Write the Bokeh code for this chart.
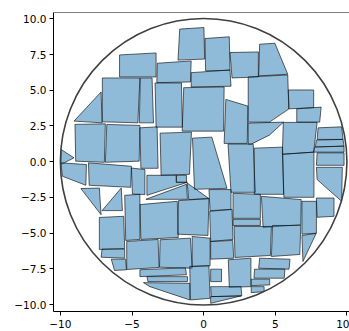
from bokeh.plotting import figure
from bokeh.embed import file_html
from bokeh.resources import INLINE
from bokeh.models import Range1d, FixedTicker, Span

# ---- data -------------------------------------------------------------
circle_x = [0.0]
circle_y = [0.0]
circle_r = [10.0]

poly_xs = [
    [-1.67, 0.02, 0.07, -1.79],
    [0.09, 1.79, 1.84, 0.14],
    [1.84, 3.82, 3.82, 1.98],
    [3.91, 4.97, 5.87, 3.84],
    [-3.23, -0.87, -0.92, -3.27],
    [-0.87, 1.84, 1.91, -0.87],
    [-5.87, -3.32, -3.32, -5.87],
    [-7.07, -4.45, -4.59, -7.07],
    [-4.42, -3.6, -3.5, -4.49],
    [-3.39, -1.55, -1.48, -3.32],
    [-1.39, 1.43, 1.39, -1.5],
    [1.55, 3.09, 3.04, 1.43],
    [3.11, 5.87, 5.94, 4.59, 3.11],
    [5.91, 7.68, 7.68, 5.96],
    [6.5, 8.2, 8.1, 6.5],
    [3.11, 5.58, 4.59, 3.32, 3.11],
    [5.56, 7.92, 7.68, 5.49],
    [7.99, 9.63, 9.73, 7.92],
    [7.87, 9.73, 9.8, 7.8],
    [7.75, 9.8, 9.8, 7.68],
    [7.92, 9.8, 9.8, 7.87],
    [7.87, 9.68, 9.63, 7.92],
    [7.87, 9.1, 9.1, 7.92],
    [6.86, 7.87, 7.87, 6.86],
    [4.03, 6.81, 6.78, 4.15],
    [3.53, 5.51, 5.58, 3.53],
    [5.51, 7.7, 7.7, 5.6],
    [2.05, 3.96, 3.96, 2.05],
    [2.05, 3.96, 3.96, 2.05],
    [-0.78, 0.57, 1.63, -0.64],
    [1.7, 3.46, 3.6, 1.91],
    [-3.04, -0.85, -0.99, -2.97],
    [-1.91, -1.2, -1.2, -1.91],
    [-3.96, -1.91, -1.91, -1.13, -3.96],
    [-4.03, -1.2, -1.13],
    [-1.15, 0.37, -1.04],
    [-9.05, -7.16, -7.09],
    [-8.98, -6.86, -6.93, -8.93],
    [-6.76, -4.45, -4.5, -6.86],
    [-4.45, -3.25, -3.18, -4.38],
    [-9.95, -9.05, -9.97],
    [-9.97, -8.18, -8.22, -9.85],
    [-8.04, -5.04, -5.09, -7.99],
    [-8.57, -7.28, -7.16],
    [-7.09, -5.75, -5.67],
    [-5.04, -4.1, -4.1, -4.97],
    [0.37, 1.91, 1.91, 0.45],
    [-1.75, 0.37, 0.3, -1.82],
    [-4.45, -1.84, -1.77, -4.38],
    [-5.51, -4.45, -4.45, -5.44],
    [-7.28, -5.58, -5.51, -7.28],
    [-7.09, -5.51, -5.51, -7.16],
    [-6.45, -5.44, -5.39, -6.22],
    [-5.37, -3.18, -3.11, -5.37],
    [-4.45, -1.27, -1.2, -4.45],
    [-3.96, -1.13, -1.13, -3.89],
    [-4.2, -0.97, -0.97, -3.75],
    [-3.04, -0.92, -0.8, -3.08],
    [-0.8, 0.45, 0.45, -0.8],
    [-0.97, 0.37, 0.45, -0.92],
    [0.49, 2.03, 2.1, 0.49],
    [0.49, 1.25, 1.25, 0.49],
    [1.72, 3.3, 3.3, 1.79],
    [0.49, 2.61, 2.66, 0.54],
    [0.49, 2.61, 0.49],
    [0.42, 1.98, 2.05, 0.49],
    [2.12, 4.73, 4.66, 2.19],
    [4.81, 6.78, 6.71, 4.73],
    [6.86, 7.85, 6.93],
    [3.91, 6.03, 5.96, 3.84],
    [3.55, 5.67, 5.63, 3.51],
    [3.32, 4.61, 4.61, 3.32],
    [3.32, 4.22, 4.22, 3.32],
]

poly_ys = [
    [9.28, 9.39, 7.18, 7.11],
    [8.62, 8.74, 6.40, 6.35],
    [7.64, 7.68, 5.93, 5.86],
    [8.22, 8.29, 6.12, 6.0],
    [6.89, 7.05, 5.58, 5.53],
    [6.23, 6.42, 5.28, 5.23],
    [7.47, 7.61, 5.93, 5.93],
    [5.86, 5.86, 2.72, 2.79],
    [5.86, 5.86, 2.72, 2.72],
    [5.51, 5.51, 2.42, 2.42],
    [5.18, 5.23, 2.14, 2.14],
    [4.36, 3.89, 1.28, 1.28],
    [5.93, 6.07, 3.68, 2.77, 2.77],
    [5.02, 5.02, 3.78, 3.7],
    [3.7, 3.82, 2.77, 2.77],
    [2.7, 2.77, 1.86, 1.23, 1.23],
    [2.75, 2.75, 0.67, 0.51],
    [2.37, 2.44, 1.56, 1.56],
    [1.51, 1.56, 1.09, 1.04],
    [1.02, 1.09, 0.67, 0.67],
    [0.62, 0.62, -0.25, -0.25],
    [-0.39, -0.39, -2.77, -1.25],
    [-2.54, -2.54, -3.82, -3.89],
    [-2.77, -2.77, -5.0, -5.07],
    [-2.42, -2.65, -4.41, -4.6],
    [0.95, 1.02, -2.28, -2.28],
    [0.53, 0.67, -2.49, -2.49],
    [-2.21, -2.28, -3.96, -3.96],
    [-4.03, -4.03, -4.46, -4.46],
    [1.65, 1.72, -1.86, -1.93],
    [1.23, 1.23, -2.14, -2.14],
    [2.0, 2.07, -0.88, -0.95],
    [-0.95, -0.95, -1.44, -1.44],
    [-0.95, -0.95, -1.44, -1.44, -2.35],
    [-2.63, -1.58, -2.63],
    [-1.49, -2.58, -2.65],
    [2.84, 4.88, 2.72],
    [2.61, 2.65, -0.04, 0.04],
    [2.61, 2.54, 0.04, -0.04],
    [2.37, 2.44, -0.46, -0.46],
    [0.86, 0.27, -0.2],
    [-0.08, -0.2, -1.65, -1.02],
    [-0.08, -0.32, -1.79, -1.65],
    [-1.88, -1.84, -3.71],
    [-3.42, -1.84, -3.42],
    [-0.44, -0.55, -2.3, -2.26],
    [-1.95, -1.95, -3.35, -3.42],
    [-2.72, -2.58, -5.16, -5.07],
    [-3.0, -2.77, -5.3, -5.44],
    [-2.35, -2.28, -5.44, -5.51],
    [-3.9, -3.82, -6.07, -6.14],
    [-6.12, -6.12, -6.75, -6.68],
    [-6.82, -6.82, -7.56, -7.61],
    [-5.58, -5.44, -7.4, -7.54],
    [-7.56, -7.42, -7.91, -8.04],
    [-8.04, -8.04, -8.39, -8.39],
    [-8.46, -8.51, -9.67, -8.74],
    [-5.46, -5.35, -7.45, -7.38],
    [-5.23, -5.35, -7.28, -7.33],
    [-7.33, -7.28, -9.56, -9.67],
    [-5.58, -5.51, -6.75, -6.82],
    [-7.52, -7.52, -8.39, -8.39],
    [-6.86, -6.75, -8.74, -8.79],
    [-8.74, -8.74, -9.39, -9.44],
    [-9.44, -9.39, -9.91],
    [-3.47, -3.33, -5.44, -5.58],
    [-4.53, -4.53, -6.56, -6.7],
    [-4.46, -4.46, -6.49, -6.63],
    [-5.16, -5.02, -6.98],
    [-6.75, -6.82, -7.52, -7.45],
    [-7.52, -7.52, -8.15, -8.15],
    [-8.22, -8.22, -8.62, -8.67],
    [-8.74, -8.74, -9.09, -9.16],
]

x_ticks = [-10, -5, 0, 5, 10]
y_ticks = [-10, -7.5, -5, -2.5, 0, 2.5, 5, 7.5, 10]
x_lo, x_hi = -10.48, 10.18
y_lo, y_hi = -10.48, 10.44

# ---- figure -----------------------------------------------------------
p = figure(
    frame_width=296, frame_height=299,
    min_border_left=53, min_border_right=0, min_border_top=12, min_border_bottom=20,
    x_range=Range1d(x_lo, x_hi), y_range=Range1d(y_lo, y_hi),
    output_backend="svg", toolbar_location=None,
)
p.grid.visible = False
p.outline_line_color = None
p.background_fill_color = "white"
p.border_fill_color = "white"

p.patches(poly_xs, poly_ys, fill_color="#1f77b4", fill_alpha=0.5,
          line_color="black", line_alpha=0.6, line_width=1)

p.circle(x=circle_x, y=circle_y, radius=circle_r, fill_color=None,
         line_color="#404040", line_width=1.6)

# top spine (right spine lies outside the visible window in the reference)
p.add_layout(Span(location=y_hi, dimension="width", line_color="black", line_width=1))

def fmt(v, dec):
    s = f"{abs(v):.{dec}f}"
    return ("\u2212" + s) if v < 0 else s

p.xaxis.ticker = FixedTicker(ticks=x_ticks)
p.yaxis.ticker = FixedTicker(ticks=y_ticks)
p.xaxis.major_label_overrides = {v: fmt(v, 0) for v in x_ticks}
p.yaxis.major_label_overrides = {v: fmt(v, 1) for v in y_ticks}

for ax in (p.xaxis, p.yaxis):
    ax.axis_line_color = "black"
    ax.axis_line_width = 1
    ax.major_tick_line_color = "black"
    ax.major_tick_out = 4
    ax.major_tick_in = 0
    ax.minor_tick_line_color = None
    ax.major_label_text_font = "DejaVu Sans"
    ax.major_label_text_font_size = "10.5px"
    ax.major_label_text_color = "black"
p.xaxis.major_label_standoff = 4
p.yaxis.major_label_standoff = 3

open("out.html", "w").write(file_html(p, INLINE))
